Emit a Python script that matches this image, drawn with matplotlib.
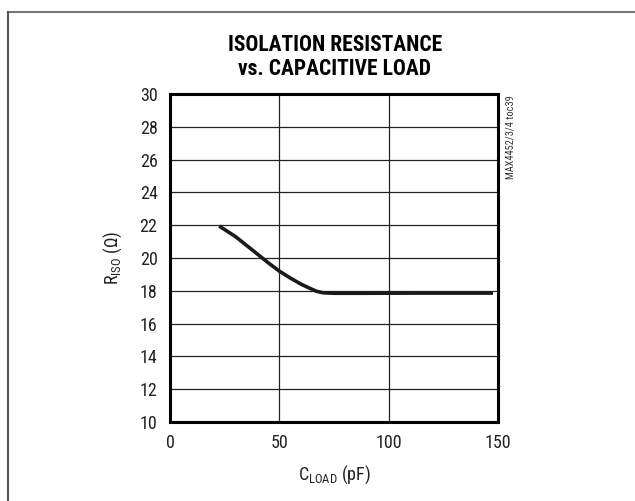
import matplotlib
matplotlib.use("Agg")
import matplotlib.pyplot as plt
from matplotlib import font_manager
from matplotlib.lines import Line2D

# narrow face like the datasheet type, if one is installed
names = {f.name for f in font_manager.fontManager.ttflist}
narrow = [n for n in ["Liberation Sans Narrow", "DejaVu Sans Condensed", "Roboto Condensed"] if n in names]
family = narrow[:1] + ["DejaVu Sans"]
plt.rcParams["font.family"] = family
plt.rcParams["mathtext.fontset"] = "custom"
plt.rcParams["mathtext.rm"] = family[0]

# values
c_load = [22.5, 30, 38, 45, 50, 55, 60, 64, 67, 70, 75, 90, 110, 130, 147.7]
r_iso = [21.95, 21.3, 20.45, 19.7, 19.2, 18.78, 18.4, 18.15, 17.97, 17.88, 17.85, 17.85, 17.86, 17.86, 17.86]

x_ticks = [0, 50, 100, 150]
y_ticks = [10, 12, 14, 16, 18, 20, 22, 24, 26, 28, 30]

fig = plt.figure(figsize=(6.35, 5.01), dpi=100)
ax = fig.add_axes([170 / 635, 1 - 422 / 501, 328 / 635, 328 / 501])

ax.plot(c_load, r_iso, color="#1a1a1a", linewidth=2.6, solid_capstyle="butt", solid_joinstyle="round")

ax.set_xlim(0, 150)
ax.set_ylim(10, 30)
ax.set_xticks(x_ticks)
ax.set_yticks(y_ticks)
ax.grid(True, color="#222222", linewidth=0.9)
ax.tick_params(length=0, labelsize=13, pad=9, labelcolor="#222222")
for sp in ax.spines.values():
    sp.set_linewidth(2.2)
    sp.set_color("black")

ax.set_xlabel(r"C$_{\mathregular{LOAD}}$ (pF)", fontsize=13, labelpad=8, color="#222222")
ax.set_ylabel(r"R$_{\mathregular{ISO}}$ ($\Omega$)", fontsize=13, labelpad=11, color="#222222")

fig.text(335 / 635, 1 - 57 / 501, "ISOLATION RESISTANCE\nvs. CAPACITIVE LOAD",
         ha="center", va="center", fontsize=15.5, fontweight="bold", linespacing=1.12)
fig.text(511 / 635, 1 - 95 / 501, "MAX4452/3/4 toc39", rotation=90,
         ha="center", va="top", fontsize=7.5, color="#333333")

# frame lines along top and left edge
fig.add_artist(Line2D([7.5 / 635, 1], [1 - 12 / 501, 1 - 12 / 501], color="#777777", linewidth=1.5))
fig.add_artist(Line2D([7.5 / 635, 7.5 / 635], [0, 1 - 12 / 501], color="#555555", linewidth=1.5))

fig.savefig("out.png", dpi=100)
